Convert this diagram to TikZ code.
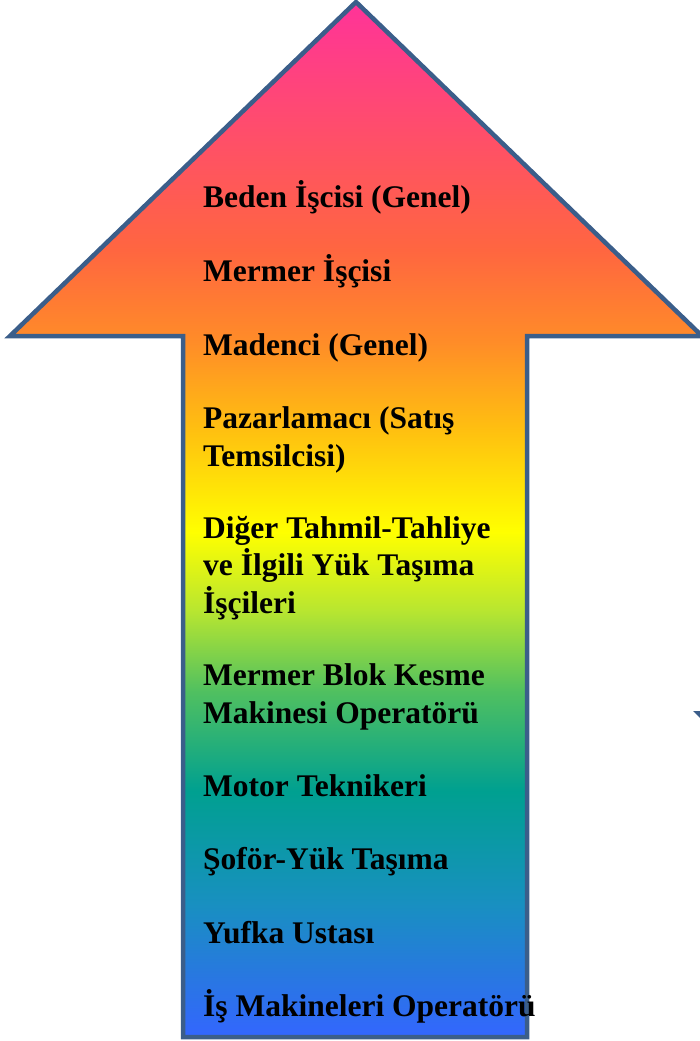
\documentclass[tikz,border=0pt]{standalone}
\usepackage{fontspec}
\setmainfont{Liberation Serif}
\definecolor{edge}{RGB}{59,94,138}
\definecolor{g0}{HTML}{3366FF}
\definecolor{g1}{HTML}{2878E0}
\definecolor{g2}{HTML}{1890C0}
\definecolor{g3}{HTML}{00A090}
\definecolor{g4}{HTML}{50C060}
\definecolor{g5}{HTML}{B8E630}
\definecolor{g6}{HTML}{FFFF00}
\definecolor{g7}{HTML}{FFC010}
\definecolor{g8}{HTML}{FF8C28}
\definecolor{g9}{HTML}{FF6640}
\definecolor{g10}{HTML}{FF3399}
\pgfdeclareverticalshading{rainbow}{100bp}{color(0bp)=(g0); color(25bp)=(g0);
  color(28bp)=(g1); color(31.5bp)=(g2); color(36.9bp)=(g3); color(41.7bp)=(g4);
  color(45.6bp)=(g5); color(49.4bp)=(g6); color(54.3bp)=(g7); color(58.6bp)=(g8);
  color(63bp)=(g9); color(75bp)=(g10); color(100bp)=(g10)}
\begin{document}
\begin{tikzpicture}[x=1pt, y=-1pt]
\tikzset{job/.style={anchor=base west, align=left, inner sep=0pt,
  font=\fontsize{31.5}{37.5}\selectfont\bfseries},
arrowbody/.style={draw=edge, line width=4.5pt, line join=miter, shading=rainbow}};

\useasboundingbox (0,0) rectangle (700,1041);

% the big arrow
\coordinate (tip) at (356,2);
\coordinate (wr) at (702,336);
\coordinate (sr) at (527,336);
\coordinate (br) at (527,1037);
\coordinate (bl) at (183,1037);
\coordinate (sl) at (183,336);
\coordinate (wl) at (10,336);
\path[arrowbody] (tip) -- (wr) -- (sr) -- (br) -- (bl) -- (sl) -- (wl) -- cycle;

% corner of a shape outside the picture
\coordinate (m1) at (693,711);
\coordinate (m2) at (701,711);
\coordinate (m3) at (701,719);
\fill[edge] (m1) -- (m2) -- (m3) -- cycle;

% y = baseline of the last line
\foreach \i/\y/\txt in {1/207/{Beden İşcisi (Genel)},
  2/281/{Mermer İşçisi},
  3/355/{Madenci (Genel)},
  4/466/{Pazarlamacı (Satış\\Temsilcisi)},
  5/613/{Diğer Tahmil-Tahliye\\ve İlgili Yük Taşıma\\İşçileri},
  6/723/{Mermer Blok Kesme\\Makinesi Operatörü},
  7/796/{Motor Teknikeri},
  8/869/{Şoför-Yük Taşıma},
  9/943/{Yufka Ustası},
  10/1016/{İş Makineleri Operatörü}} {
	\node[job] (t\i) at (203,\y) {\txt};
}

\end{tikzpicture}
\end{document}
